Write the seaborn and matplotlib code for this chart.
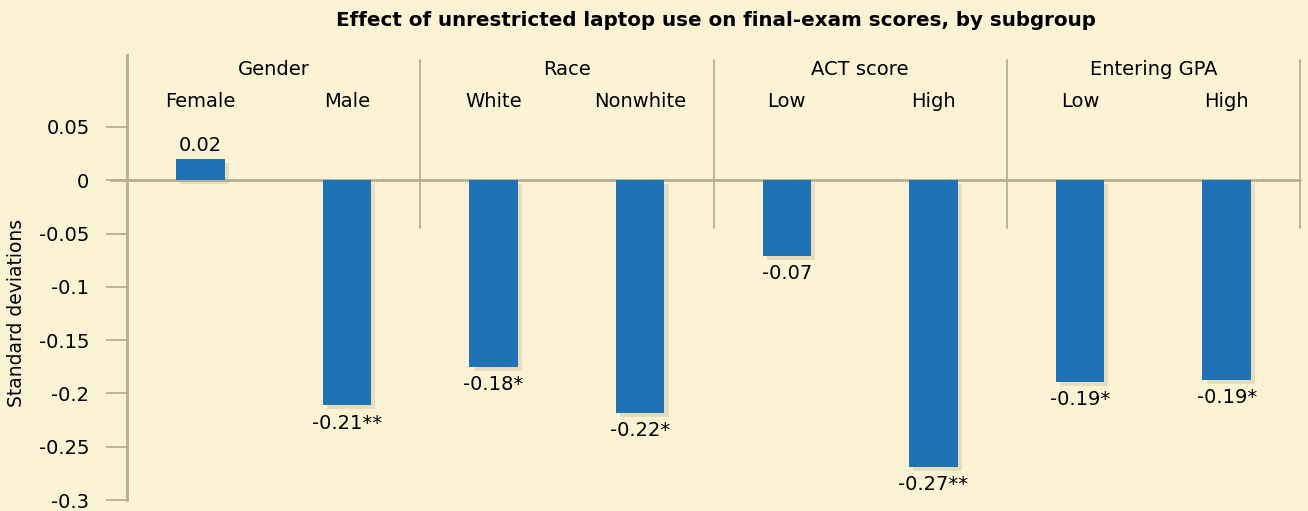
import matplotlib
matplotlib.use("Agg")
import matplotlib.pyplot as plt
import matplotlib.patheffects as pe
import seaborn as sns
import pandas as pd

# data
groups = ["Gender", "Race", "ACT score", "Entering GPA"]
subgroups = ["Female", "Male", "White", "Nonwhite", "Low", "High", "Low", "High"]
group_of = ["Gender", "Gender", "Race", "Race", "ACT score", "ACT score", "Entering GPA", "Entering GPA"]
effects = [0.02, -0.211, -0.175, -0.218, -0.071, -0.269, -0.189, -0.187]
value_labels = ["0.02", "-0.21**", "-0.18*", "-0.22*", "-0.07", "-0.27**", "-0.19*", "-0.19*"]
yticks = [0.05, 0, -0.05, -0.1, -0.15, -0.2, -0.25, -0.3]
ytick_labels = ["0.05", "0", "-0.05", "-0.1", "-0.15", "-0.2", "-0.25", "-0.3"]

bg = "#fcf3d5"
bar_color = "#1f72b4"
line_color = "#b8ae94"

sns.set_style("white")
plt.rcParams["font.family"] = ["DejaVu Sans"]
plt.rcParams["text.color"] = "black"
plt.rcParams["ytick.labelcolor"] = "black"
plt.rcParams["axes.labelcolor"] = "black"

df = pd.DataFrame({
    "key": [f"{g}|{s}" for g, s in zip(group_of, subgroups)],
    "effect": effects,
})

fig = plt.figure(figsize=(13.08, 5.11), dpi=100, facecolor=bg)
ax = fig.add_axes([127 / 1308, 11 / 511, (1300 - 127) / 1308, (500 - 55) / 511])
ax.set_facecolor(bg)

sns.barplot(data=df, x="key", y="effect", color=bar_color, saturation=1,
            width=0.33, ax=ax, zorder=3, edgecolor="none", linewidth=0)
for p in ax.patches:
    p.set_path_effects([pe.SimplePatchShadow(offset=(3, -3), shadow_rgbFace="#a89d78", alpha=0.25),
                        pe.Normal()])

ax.set_xlim(-0.5, 7.5)
ax.set_ylim(-0.3, 0.1175)

# zero line
ax.axhline(0, color=line_color, lw=2, zorder=2, xmin=-0.014, clip_on=False)

# group separators
for x in [1.5, 3.5, 5.5, 7.5]:
    ax.plot([x, x], [-0.045, 0.1125], color=line_color, lw=1.3, zorder=1, clip_on=False)

# group and subgroup headings
fs = 14
for i, g in enumerate(groups):
    ax.text(2 * i + 0.5, 0.1035, g, ha="center", va="center", fontsize=fs)
for i, s in enumerate(subgroups):
    ax.text(i, 0.0735, s, ha="center", va="center", fontsize=fs)

# value labels
for i, (v, lab) in enumerate(zip(effects, value_labels)):
    if v >= 0:
        ax.text(i, v + 0.004, lab, ha="center", va="bottom", fontsize=fs)
    else:
        ax.text(i, v - 0.008, lab, ha="center", va="top", fontsize=fs)

ax.set_yticks(yticks)
ax.set_yticklabels(ytick_labels, fontsize=fs)
ax.set_xticks([])
ax.set_xlabel("")
ax.set_ylabel("Standard deviations", fontsize=13.5)
ax.yaxis.set_label_coords(-0.086, 0.42)
ax.tick_params(axis="y", direction="out", length=15, width=1.3, color=line_color, pad=12, left=True)

for side in ["top", "right", "bottom"]:
    ax.spines[side].set_visible(False)
ax.spines["left"].set_color(line_color)
ax.spines["left"].set_linewidth(2)

fig.text(716 / 1308, 1 - 20 / 511, "Effect of unrestricted laptop use on final-exam scores, by subgroup",
         ha="center", va="center", fontsize=14.3, fontweight="bold")

fig.savefig("out.png", dpi=100, facecolor=bg)
